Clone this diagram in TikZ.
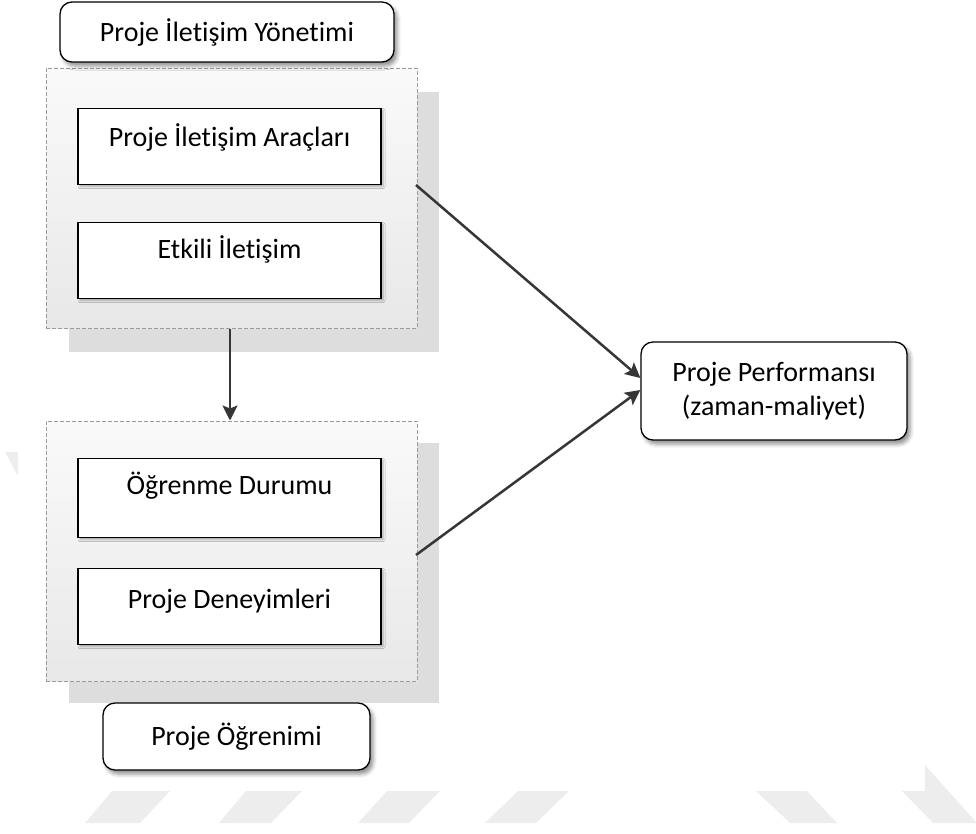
\documentclass[tikz,border=0pt]{standalone}
\usepackage{fontspec}
\setmainfont{Carlito}[Ligatures={NoCommon}]
\usetikzlibrary{arrows.meta,shadows.blur}

\definecolor{arrowgray}{HTML}{363636}
\definecolor{dashgray}{HTML}{9A9A9A}
\definecolor{backshade}{HTML}{DDDDDD}
\definecolor{markgray}{HTML}{EDEDED}

\tikzset{
  basefont/.style={font=\fontsize{28pt}{34pt}\selectfont},
  roundbox/.style={basefont, draw=black, line width=1.3pt, fill=white,
    rounded corners=12pt, align=center, inner sep=0pt,
    blur shadow={shadow xshift=3pt, shadow yshift=-4pt, shadow blur radius=4pt, shadow opacity=45}},
  itembox/.style={basefont, draw=black, line width=1.2pt, fill=white,
    minimum width=303pt, inner ysep=0pt, anchor=north,
    blur shadow={shadow xshift=2pt, shadow yshift=-2pt, shadow blur radius=2pt, shadow opacity=30}},
  groupbox/.style={draw=dashgray, line width=1pt, dash pattern=on 4pt off 2pt,
    top color=white!98!black, bottom color=black!9, minimum width=371pt,
    minimum height=260pt, inner sep=0pt},
  groupback/.style={fill=backshade, draw=none},
  flow/.style={draw=arrowgray, line width=2.5pt,
    -{Stealth[length=15pt, width=15pt, inset=3pt]}},
  mark/.style={fill=markgray, draw=none}
}

\begin{document}
\begin{tikzpicture}[x=1pt, y=-1pt]
\useasboundingbox (0,0) rectangle (976,833);

% faint background marks
\fill[markgray] (112,791) -- (170,791) -- (140,823) -- (85,823) -- cycle;
\fill[markgray] (246,791) -- (302,791) -- (271,823) -- (219,823) -- cycle;
\fill[markgray] (387,791) -- (440,791) -- (409,823) -- (358,823) -- cycle;
\fill[markgray] (518,791) -- (569,791) -- (536,823) -- (485,823) -- cycle;
\fill[markgray] (756,791) -- (807,791) -- (837,823) -- (790,823) -- cycle;
\fill[markgray] (925,765) -- (976,822) -- (976,823) -- (933,823) -- (902,791) -- (925,791) -- cycle;
\fill[markgray] (5,452) -- (18,452) -- (18,476) -- cycle;

% back panels behind the two groups
\fill[groupback] (69,92) rectangle (439,352);
\fill[groupback] (69,443) rectangle (439,703);

% groups
\node[groupbox] (comm) at (231.5,198) {};
\node[groupbox] (learn) at (231.5,551) {};

% titles
\node[roundbox, minimum width=334pt, minimum height=60pt] (commtitle) at (227,32) {Proje İletişim Yönetimi};
\node[roundbox, minimum width=267pt, minimum height=67pt] (learntitle) at (236.5,736.5) {Proje Öğrenimi};

% items
\node[itembox, text height=38pt, text depth=38pt] (tools) at (229.5,108) {Proje İletişim Araçları};
\node[itembox, text height=36pt, text depth=40pt] (effective) at (229.5,222) {Etkili İletişim};
\node[itembox, text height=36pt, text depth=43pt] (status) at (229.5,458) {Öğrenme Durumu};
\node[itembox, text height=40pt, text depth=36pt] (experience) at (229.5,568) {Proje Deneyimleri};

% outcome
\node[roundbox, minimum width=266pt, minimum height=98pt] (perf) at (774,391) {Proje Performansı\\(zaman-maliyet)};

% connectors
\coordinate (commout) at (416,185);
\coordinate (learnout) at (416,555);
\draw[flow] (comm.south -| 230,0) -- (learn.north -| 230,0);
\draw[flow] (commout) -- ([yshift=13pt]perf.west);
\draw[flow] (learnout) -- ([yshift=1pt]perf.west);
\end{tikzpicture}
\end{document}
